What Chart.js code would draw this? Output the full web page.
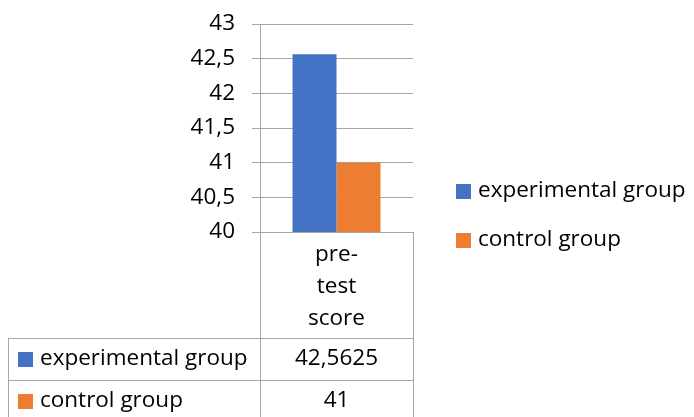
<!DOCTYPE html>
<html>
<head>
<meta charset="utf-8">
<script src="https://cdn.jsdelivr.net/npm/chart.js@4/dist/chart.umd.min.js"></script>
<style>
  html, body { margin: 0; padding: 0; background: #fff; }
  #wrap { width: 694px; height: 417px; }
</style>
</head>
<body>
<div id="wrap"><canvas id="chart" width="694" height="417"></canvas></div>
<script>
// data
const categoryLines = [['pre-', 'test', 'score']];
const seriesNames = ['experimental group', 'control group'];
const experimentalValues = [42.5625];
const controlValues = [41];
const yTicks = [40, 40.5, 41, 41.5, 42, 42.5, 43];

const FONT = '"Open Sans", "Noto Sans", sans-serif';
const FSIZE = 22.5;
const LINE = '#a6a6a6';
const fmt = v => String(v).replace('.', ',');

// data table under the plot + legend on the right
const tablePlugin = {
  id: 'tablePlugin',
  afterDraw(chart) {
    const ctx = chart.ctx;
    const xs = chart.scales.x;
    const ys = chart.scales.y;
    const left = xs.left, right = xs.right, bottom = ys.bottom;
    const rowTop = 338, rowH = 42, tableLeft = 8;
    ctx.save();
    ctx.strokeStyle = LINE;
    ctx.lineWidth = 1;
    ctx.beginPath();
    ctx.moveTo(Math.round(left) + 0.5, bottom); ctx.lineTo(Math.round(left) + 0.5, 417);
    ctx.moveTo(Math.round(right) + 0.5, bottom); ctx.lineTo(Math.round(right) + 0.5, 417);
    ctx.moveTo(tableLeft + 0.5, rowTop); ctx.lineTo(tableLeft + 0.5, 417);
    ctx.moveTo(tableLeft, rowTop + 0.5); ctx.lineTo(right + 1, rowTop + 0.5);
    ctx.moveTo(tableLeft, rowTop + rowH + 0.5); ctx.lineTo(right + 1, rowTop + rowH + 0.5);
    ctx.stroke();

    ctx.font = FSIZE + 'px ' + FONT;
    ctx.textBaseline = 'middle';
    chart.data.datasets.forEach((ds, i) => {
      const cy = rowTop + rowH * i + 21;
      ctx.fillStyle = ds.backgroundColor;
      ctx.fillRect(18, cy - 7, 15, 15);
      ctx.fillStyle = '#000';
      ctx.textAlign = 'left';
      ctx.fillText(ds.label, 40, cy);
      ctx.textAlign = 'center';
      ds.data.forEach((v, j) => {
        ctx.fillText(fmt(v), xs.getPixelForValue(j), cy);
      });
    });

    // legend
    chart.data.datasets.forEach((ds, i) => {
      const cy = 191 + i * 49;
      ctx.fillStyle = ds.backgroundColor;
      ctx.fillRect(456, cy - 7, 15, 15);
      ctx.fillStyle = '#000';
      ctx.textAlign = 'left';
      ctx.fillText(ds.label, 478, cy);
    });
    ctx.restore();
  }
};

new Chart(document.getElementById('chart'), {
  type: 'bar',
  data: {
    labels: categoryLines,
    datasets: [
      { label: seriesNames[0], data: experimentalValues, backgroundColor: '#4472C4' },
      { label: seriesNames[1], data: controlValues, backgroundColor: '#ED7D31' }
    ]
  },
  options: {
    responsive: false,
    animation: false,
    layout: { padding: { left: 0, right: 281, top: 24, bottom: 0 } },
    categoryPercentage: 0.575,
    barPercentage: 1,
    plugins: { legend: { display: false }, tooltip: { enabled: false } },
    scales: {
      x: {
        grid: { display: false, drawTicks: false },
        border: { display: false },
        ticks: { color: '#000', padding: 6, font: { family: FONT, size: FSIZE, lineHeight: 1.44 } },
        afterFit(scale) { scale.height = 185; scale.paddingLeft = 0; scale.paddingRight = 0; }
      },
      y: {
        min: 40,
        max: 43,
        afterBuildTicks(scale) { scale.ticks = yTicks.map(v => ({ value: v })); },
        grid: { color: LINE, tickLength: 8 },
        border: { color: LINE },
        ticks: { color: '#000', padding: 17, font: { family: FONT, size: FSIZE }, callback: v => fmt(v) },
        afterFit(scale) { scale.width = 260; scale.paddingTop = 0; scale.paddingBottom = 0; }
      }
    }
  },
  plugins: [tablePlugin]
});
</script>
</body>
</html>
